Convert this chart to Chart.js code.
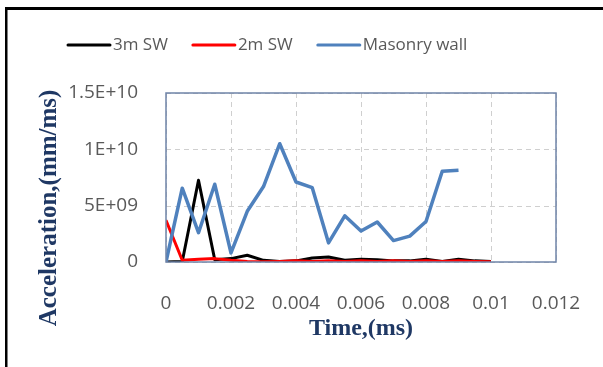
<!DOCTYPE html>
<html>
<head>
<meta charset="utf-8">
<script src="https://cdn.jsdelivr.net/npm/chart.js@4.4.1/dist/chart.umd.min.js"></script>
<style>
  html, body { margin: 0; padding: 0; background: #fff; }
  #wrap { width: 603px; height: 367px; }
</style>
</head>
<body>
<div id="wrap"><canvas id="chart" width="603" height="367"></canvas></div>
<script>
// time steps (ms)
const times = [0, 0.0005, 0.001, 0.0015, 0.002, 0.0025, 0.003, 0.0035, 0.004, 0.0045, 0.005,
  0.0055, 0.006, 0.0065, 0.007, 0.0075, 0.008, 0.0085, 0.009, 0.0095, 0.01];

// acceleration values
const sw3 = [0, 0.05e9, 7.25e9, 0.2e9, 0.3e9, 0.6e9, 0.15e9, 0.05e9, 0.1e9, 0.35e9, 0.45e9,
  0.15e9, 0.25e9, 0.2e9, 0.1e9, 0.1e9, 0.25e9, 0.05e9, 0.25e9, 0.1e9, 0.05e9];
const sw2 = [3.7e9, 0.15e9, 0.25e9, 0.3e9, 0.15e9, 0.05e9, 0.02e9, 0.05e9, 0.1e9, 0.05e9, 0.1e9,
  0.05e9, 0.1e9, 0.05e9, 0.1e9, 0.05e9, 0.1e9, 0.05e9, 0.1e9, 0.05e9, 0.02e9];
const masonry = [0, 6.55e9, 2.6e9, 6.9e9, 0.8e9, 4.5e9, 6.7e9, 10.5e9, 7.1e9, 6.6e9, 1.7e9,
  4.1e9, 2.75e9, 3.55e9, 1.9e9, 2.3e9, 3.6e9, 8.05e9, 8.15e9];

const seriesNames = ['3m SW', '2m SW', 'Masonry wall'];
const xTickLabels = ['0', '0.002', '0.004', '0.006', '0.008', '0.01', '0.012'];
const yTickLabels = ['0', '5E+09', '1E+10', '1.5E+10'];

const toPoints = vals => vals.map((v, i) => ({ x: times[i], y: v }));

const tickFont = { family: 'Open Sans', size: 19 };
const titleFont = { family: 'Liberation Serif', size: 24, weight: 'bold' };

// dashed grid under the lines
const dashedGrid = {
  id: 'dashedGrid',
  beforeDatasetsDraw(chart) {
    const ctx = chart.ctx;
    const a = chart.chartArea;
    const xs = chart.scales.x, ys = chart.scales.y;
    ctx.save();
    ctx.strokeStyle = '#cfcfcf';
    ctx.lineWidth = 1;
    ctx.setLineDash([5, 4]);
    xs.ticks.forEach(t => {
      const px = Math.round(xs.getPixelForValue(t.value)) + 0.5;
      ctx.beginPath();
      ctx.moveTo(px, a.top);
      ctx.lineTo(px, a.bottom);
      ctx.stroke();
    });
    ys.ticks.forEach(t => {
      const py = Math.round(ys.getPixelForValue(t.value)) + 0.5;
      ctx.beginPath();
      ctx.moveTo(a.left, py);
      ctx.lineTo(a.right, py);
      ctx.stroke();
    });
    ctx.restore();
  }
};

// frame, plot border, y title and legend
const decor = {
  id: 'decor',
  afterDraw(chart) {
    const ctx = chart.ctx;
    const a = chart.chartArea;
    ctx.save();
    // plot area border
    ctx.strokeStyle = '#6f84a8';
    ctx.lineWidth = 1.5;
    ctx.strokeRect(a.left, a.top, a.right - a.left, a.bottom - a.top);
    // outer black frame (left and top only visible)
    ctx.fillStyle = '#000';
    ctx.fillRect(5, 7, 603, 3);
    ctx.fillRect(5, 7, 2.5, 367);
    // y axis title
    ctx.translate(50, 208);
    ctx.rotate(-Math.PI / 2);
    ctx.font = 'bold 25px "Liberation Serif"';
    ctx.fillStyle = '#1f3864';
    ctx.textAlign = 'center';
    ctx.textBaseline = 'middle';
    ctx.fillText('Acceleration,(mm/ms)', 0, 0);
    ctx.restore();

    // legend
    ctx.save();
    ctx.font = '17px "Open Sans"';
    ctx.textBaseline = 'middle';
    ctx.fillStyle = '#595959';
    let x = 68;
    const y = 45;
    chart.data.datasets.forEach(ds => {
      ctx.strokeStyle = ds.borderColor;
      ctx.lineWidth = 3;
      ctx.lineCap = 'round';
      ctx.beginPath();
      ctx.moveTo(x, y);
      ctx.lineTo(x + 42, y);
      ctx.stroke();
      x += 45;
      ctx.fillText(ds.label, x, y);
      x += ctx.measureText(ds.label).width + 25;
    });
    ctx.restore();
  }
};

new Chart(document.getElementById('chart'), {
  type: 'line',
  data: {
    datasets: [
      { label: seriesNames[0], data: toPoints(sw3), borderColor: '#000000', backgroundColor: '#000000', borderWidth: 3, order: 2 },
      { label: seriesNames[1], data: toPoints(sw2), borderColor: '#ff0000', backgroundColor: '#ff0000', borderWidth: 3, order: 1 },
      { label: seriesNames[2], data: toPoints(masonry), borderColor: '#4f81bd', backgroundColor: '#4f81bd', borderWidth: 3.5, order: 0 }
    ]
  },
  options: {
    responsive: false,
    animation: false,
    elements: { point: { radius: 0 }, line: { tension: 0, borderJoinStyle: 'round' } },
    layout: { padding: { left: 60, right: 47, top: 93, bottom: 24 } },
    plugins: { legend: { display: false }, tooltip: { enabled: false } },
    scales: {
      x: {
        type: 'linear',
        min: 0,
        max: 0.012,
        ticks: {
          stepSize: 0.002,
          color: '#595959',
          font: tickFont,
          padding: 22,
          maxRotation: 0,
          callback: (v, i) => xTickLabels[i]
        },
        grid: { display: false },
        border: { display: false },
        title: { display: true, text: 'Time,(ms)', color: '#1f3864', font: titleFont, padding: 0 },
        afterFit: s => { s.height = 81; }
      },
      y: {
        min: 0,
        max: 1.5e10,
        ticks: {
          stepSize: 5e9,
          color: '#595959',
          font: tickFont,
          padding: 20,
          callback: (v, i) => yTickLabels[i]
        },
        grid: { display: false },
        border: { display: false },
        afterFit: s => { s.width = 106; }
      }
    }
  },
  plugins: [dashedGrid, decor]
});
</script>
</body>
</html>
